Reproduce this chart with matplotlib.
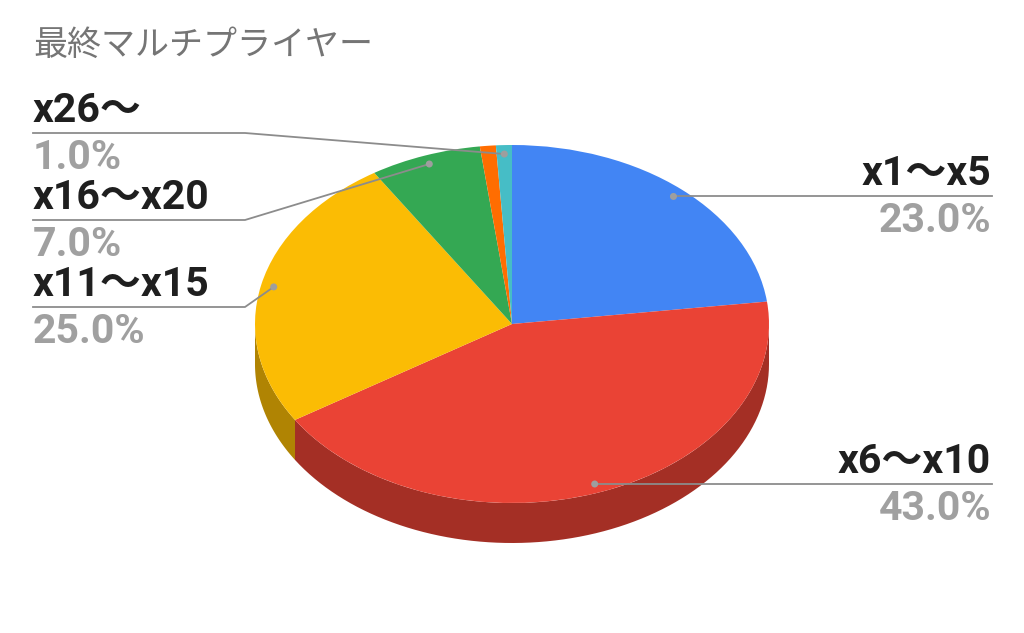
import numpy as np
import matplotlib
matplotlib.use("Agg")
import matplotlib.pyplot as plt
from matplotlib.patches import Wedge, Polygon, Circle
from matplotlib.transforms import Affine2D

title = '最終マルチプライヤー'
categories = ['x1～x5', 'x6～x10', 'x11～x15', 'x16～x20', 'x21～x25', 'x26～']
values = [23.0, 43.0, 25.0, 7.0, 1.0, 1.0]
colors = ['#4285f4', '#ea4335', '#fbbc04', '#34a853', '#ff6d01', '#46bdc6']
shown = [True, True, True, True, False, True]

# pie geometry in pixels
cx, cy = 512, 324
rx, ry = 257, 179
depth = 40

# label layout: (side, line y)
label_pos = {
    'x1～x5': ('right', None),
    'x6～x10': ('right', None),
    'x11～x15': ('left', 307),
    'x16～x20': ('left', 220),
    'x26～': ('left', 133),
}

fonts = ['Roboto', 'Noto Sans CJK JP', 'DejaVu Sans']
lab_size = 29.5


def darker(c, f=0.7):
    r, g, b = matplotlib.colors.to_rgb(c)
    return (r * f, g * f, b * f)


def pt(t, r=1.0, dy=0.0):
    t = np.radians(t)
    return cx + r * rx * np.cos(t), cy - r * ry * np.sin(t) + dy


fig = plt.figure(figsize=(10.24, 6.33), dpi=100)
ax = fig.add_axes([0, 0, 1, 1])
ax.set_xlim(0, 1024)
ax.set_ylim(633, 0)
ax.axis('off')

total = sum(values)
frac = np.cumsum([0] + values) / total
# clockwise from 12 o'clock
angles = [(90 - 360 * frac[i + 1], 90 - 360 * frac[i]) for i in range(len(values))]

# side faces (only the front half is visible)
for (a1, a2), c in zip(angles, colors):
    for k in (-1, 0, 1):
        lo = max(a1, -180 + 360 * k)
        hi = min(a2, 360 * k)
        if hi <= lo:
            continue
        t = np.linspace(lo, hi, 80)
        top = np.column_stack(pt(t))
        bot = np.column_stack(pt(t[::-1], dy=depth))
        ax.add_patch(Polygon(np.vstack([top, bot]), closed=True,
                             facecolor=darker(c), edgecolor='none', zorder=1))

# top faces
trans = Affine2D().scale(rx, -ry).translate(cx, cy) + ax.transData
for (a1, a2), c in zip(angles, colors):
    ax.add_patch(Wedge((0, 0), 1, a1, a2, facecolor=c, edgecolor='none',
                       transform=trans, zorder=2))

# leader lines and labels
line_c = '#8c8c8c'
dot_c = '#9e9e9e'
for (a1, a2), cat, v, s in zip(angles, categories, values, shown):
    if not s:
        continue
    mid = (a1 + a2) / 2
    dx, dy = pt(mid, 0.95)
    side, ly = label_pos[cat]
    if side == 'right':
        ax.plot([dx, 992], [dy, dy], color=line_c, lw=1.3, zorder=3)
        tx, ty, ha = 991, dy, 'right'
    else:
        ax.plot([dx, 245, 33], [dy, ly, ly], color=line_c, lw=1.3, zorder=3)
        tx, ty, ha = 33, ly, 'left'
    ax.text(tx, ty - 11, cat, ha=ha, va='baseline', fontsize=lab_size,
            fontweight='bold', color='#1f1f1f', family=fonts, zorder=4)
    ax.text(tx, ty + 36, '%.1f%%' % v, ha=ha, va='baseline', fontsize=lab_size,
            fontweight='bold', color='#a0a0a0', family=fonts, zorder=4)
    ax.add_patch(Circle((dx, dy), 3.5, facecolor=dot_c, edgecolor='none', zorder=5))

ax.text(33, 46, title, ha='left', va='center', fontsize=24.5, color='#757575',
        family=fonts)

fig.savefig('out.png', dpi=100)
